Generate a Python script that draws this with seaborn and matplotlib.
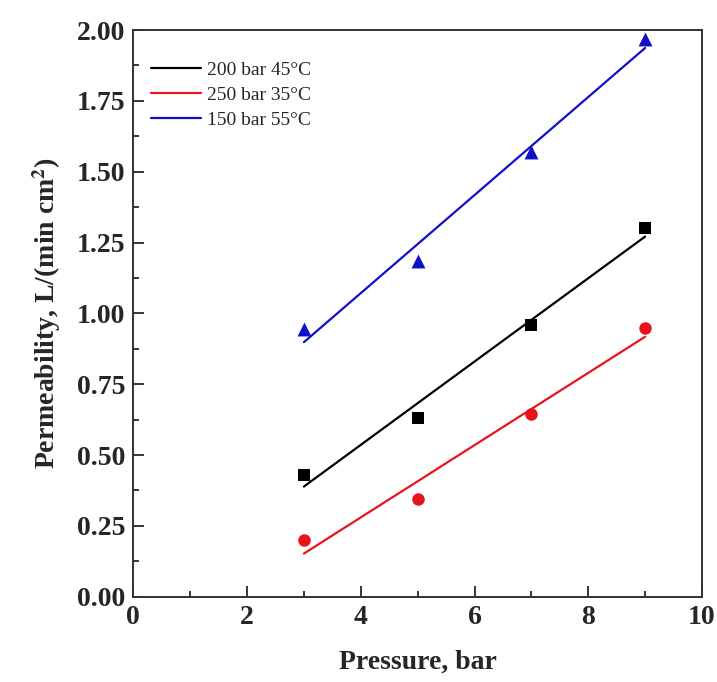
import numpy as np
import pandas as pd
import matplotlib
matplotlib.use("Agg")
import matplotlib.pyplot as plt
import seaborn as sns
from matplotlib.ticker import MultipleLocator

pressure = [3, 5, 7, 9]
perm_200 = [0.43, 0.63, 0.96, 1.30]
perm_250 = [0.20, 0.345, 0.645, 0.95]
perm_150 = [0.945, 1.185, 1.57, 1.97]

series = [
    ("200 bar 45°C", perm_200, "black", "s", 9),
    ("250 bar 35°C", perm_250, "#e8141b", "o", 9),
    ("150 bar 55°C", perm_150, "#1010c8", "^", 10),
]

sns.set_style("white")
plt.rcParams["font.family"] = ["Liberation Serif", "DejaVu Serif"]
plt.rcParams["mathtext.fontset"] = "stix"

fig = plt.figure(figsize=(7.17, 6.82), dpi=100)
ax = fig.add_axes([0.186, 0.125, 0.793, 0.831])

for label, vals, col, mk, ms in series:
    df = pd.DataFrame({"x": pressure, "y": vals})
    sns.regplot(data=df, x="x", y="y", ax=ax, ci=None, truncate=True,
                marker=mk, color=col, label=label,
                scatter_kws={"s": ms ** 2, "linewidths": 0, "zorder": 3,
                             "alpha": 1},
                line_kws={"lw": 1.6})

ax.set_xlim(0, 10)
ax.set_ylim(0, 2.0)
ax.xaxis.set_major_locator(MultipleLocator(2))
ax.xaxis.set_minor_locator(MultipleLocator(1))
ax.yaxis.set_major_locator(MultipleLocator(0.25))
ax.yaxis.set_minor_locator(MultipleLocator(0.125))
ax.tick_params(which="both", direction="in", top=False, right=False,
               bottom=True, left=True, width=1.3)
ax.tick_params(which="major", length=8, labelsize=20, pad=6)
ax.tick_params(which="minor", length=4)
for lab in ax.get_xticklabels() + ax.get_yticklabels():
    lab.set_fontweight("bold")
ax.yaxis.set_major_formatter(matplotlib.ticker.FormatStrFormatter("%.2f"))
for sp in ax.spines.values():
    sp.set_linewidth(1.4)
    sp.set_color("#333333")

ax.set_xlabel("Pressure, bar", fontsize=20, fontweight="bold", labelpad=14)
ax.set_ylabel(r"Permeability, L/(min cm$^\mathbf{2}$)", fontsize=20,
              fontweight="bold", labelpad=10)

handles = [plt.Line2D([], [], color=c, lw=1.6) for _, _, c, _, _ in series]
ax.legend(handles, [s[0] for s in series], loc="upper left",
          bbox_to_anchor=(0.0, 0.975), frameon=False, fontsize=14,
          handlelength=2.6, handletextpad=0.3, labelspacing=0.38)

fig.savefig("out.png", dpi=100)
